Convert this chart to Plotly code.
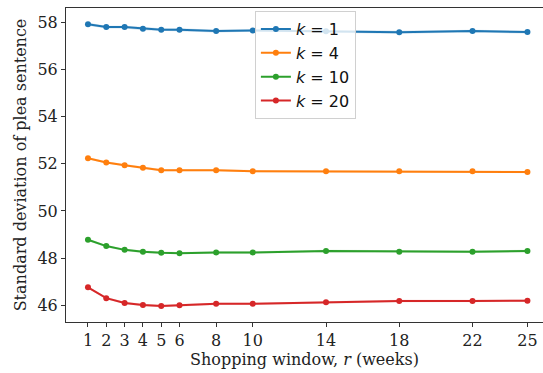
import plotly.graph_objects as go

r_weeks = [1, 2, 3, 4, 5, 6, 8, 10, 14, 18, 22, 25]
tick_labels = ["1", "2", "3", "4", "5", "6", "8", "10", "14", "18", "22", "25"]

sd_k1 = [57.92, 57.80, 57.80, 57.73, 57.69, 57.69, 57.63, 57.66, 57.62, 57.58, 57.63, 57.59]
sd_k4 = [52.24, 52.06, 51.94, 51.83, 51.73, 51.73, 51.73, 51.69, 51.68, 51.68, 51.68, 51.65]
sd_k10 = [48.78, 48.51, 48.35, 48.27, 48.23, 48.21, 48.24, 48.24, 48.30, 48.27, 48.27, 48.30]
sd_k20 = [46.76, 46.30, 46.10, 46.01, 45.97, 46.00, 46.06, 46.06, 46.13, 46.18, 46.18, 46.19]

ci_k1 = [0.06, 0.06, 0.06, 0.06, 0.06, 0.06, 0.06, 0.06, 0.06, 0.06, 0.06, 0.06]
ci_k4 = [0.05, 0.05, 0.05, 0.05, 0.05, 0.05, 0.05, 0.05, 0.05, 0.05, 0.05, 0.05]
ci_k10 = [0.05, 0.05, 0.05, 0.05, 0.05, 0.05, 0.05, 0.05, 0.05, 0.05, 0.05, 0.05]
ci_k20 = [0.05, 0.05, 0.05, 0.05, 0.05, 0.05, 0.05, 0.05, 0.05, 0.05, 0.05, 0.05]

series = [
    ("<i>k</i> = 1", sd_k1, ci_k1, "#1f77b4", "rgba(31,119,180,0.2)"),
    ("<i>k</i> = 4", sd_k4, ci_k4, "#ff7f0e", "rgba(255,127,14,0.2)"),
    ("<i>k</i> = 10", sd_k10, ci_k10, "#2ca02c", "rgba(44,160,44,0.2)"),
    ("<i>k</i> = 20", sd_k20, ci_k20, "#d62728", "rgba(214,39,40,0.2)"),
]

fig = go.Figure()
for name, vals, ci, col, fillcol in series:
    upper = [v + c for v, c in zip(vals, ci)]
    lower = [v - c for v, c in zip(vals, ci)]
    fig.add_trace(go.Scatter(
        x=r_weeks + r_weeks[::-1], y=upper + lower[::-1],
        fill="toself", fillcolor=fillcol, line=dict(width=0),
        mode="lines", showlegend=False, hoverinfo="skip"))
for name, vals, ci, col, fillcol in series:
    fig.add_trace(go.Scatter(
        x=r_weeks, y=vals, name=name, mode="lines+markers",
        line=dict(color=col, width=2), marker=dict(color=col, size=6)))

serif = "DejaVu Serif"
fig.update_layout(
    width=543, height=373,
    margin=dict(l=66, r=0, t=8, b=51),
    plot_bgcolor="white", paper_bgcolor="white",
    font=dict(family=serif, size=16, color="#222"),
    legend=dict(
        x=0.396, y=0.99, xanchor="left", yanchor="top",
        bgcolor="rgba(255,255,255,0.8)", bordercolor="#d0d0d0", borderwidth=1,
        font=dict(family="DejaVu Sans", size=16, color="#111"),
        tracegroupgap=0, itemwidth=30,
    ),
    xaxis=dict(
        range=[-0.2, 25.85], tickmode="array", tickvals=r_weeks, ticktext=tick_labels,
        showline=True, linecolor="#333", linewidth=1, mirror=True,
        ticks="outside", ticklen=4, tickcolor="#333", showgrid=False, zeroline=False,
        tickfont=dict(family=serif, size=16),
        title=dict(text="Shopping window, <i>r</i> (weeks)", font=dict(family=serif, size=16), standoff=4),
    ),
    yaxis=dict(
        range=[45.29, 58.61], tickmode="array", tickvals=[46, 48, 50, 52, 54, 56, 58],
        showline=True, linecolor="#333", linewidth=1, mirror=False,
        ticks="outside", ticklen=4, tickcolor="#333", showgrid=False, zeroline=False,
        tickfont=dict(family=serif, size=16),
        title=dict(text="Standard deviation of plea sentence", font=dict(family=serif, size=16), standoff=6),
    ),
)

fig.write_html("out.html")
